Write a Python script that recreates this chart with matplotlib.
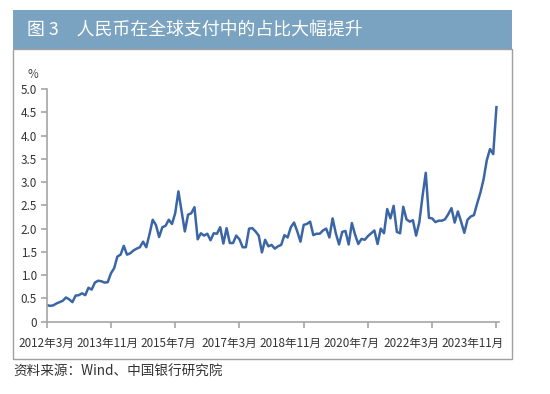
import matplotlib
matplotlib.use("Agg")
import matplotlib.pyplot as plt
from matplotlib.patches import Rectangle
from matplotlib.transforms import blended_transform_factory
import numpy as np

plt.rcParams["font.family"] = ["Noto Sans CJK SC", "DejaVu Sans"]

# RMB share of global payments (%), monthly 2012-03 .. 2023-11
share = [
    0.36, 0.34, 0.35, 0.39, 0.42, 0.45, 0.52, 0.48, 0.42, 0.56,
    0.57, 0.61, 0.57, 0.73, 0.69, 0.84, 0.88, 0.87, 0.84, 0.85,
    1.04, 1.15, 1.40, 1.44, 1.63, 1.44, 1.47, 1.53, 1.57, 1.60,
    1.72, 1.60, 1.88, 2.19, 2.08, 1.82, 2.03, 2.06, 2.19, 2.10,
    2.33, 2.80, 2.37, 1.94, 2.30, 2.33, 2.46, 1.77, 1.90, 1.85,
    1.89, 1.75, 1.90, 1.89, 2.03, 1.68, 2.01, 1.69, 1.69, 1.85,
    1.77, 1.60, 1.60, 2.00, 2.01, 1.94, 1.85, 1.49, 1.76, 1.62,
    1.65, 1.57, 1.62, 1.65, 1.86, 1.81, 2.03, 2.13, 1.94, 1.72,
    2.08, 2.10, 2.15, 1.86, 1.89, 1.89, 1.96, 2.00, 1.81, 2.22,
    1.90, 1.66, 1.93, 1.95, 1.66, 2.12, 1.87, 1.67, 1.78, 1.76,
    1.84, 1.90, 1.96, 1.67, 2.00, 1.90, 2.42, 2.22, 2.49, 1.93,
    1.90, 2.47, 2.20, 2.15, 2.18, 1.85, 2.14, 2.70, 3.20, 2.23,
    2.22, 2.14, 2.17, 2.17, 2.20, 2.31, 2.44, 2.13, 2.37, 2.15,
    1.91, 2.19, 2.26, 2.29, 2.54, 2.77, 3.06, 3.47, 3.71, 3.60, 4.61,
]
tick_labels = ["2012年3月", "2013年11月", "2015年7月", "2017年3月",
               "2018年11月", "2020年7月", "2022年3月", "2023年11月"]
tick_step = 20  # months between ticks
y_ticks = [0, 0.5, 1.0, 1.5, 2.0, 2.5, 3.0, 3.5, 4.0, 4.5, 5.0]
y_labels = ["0", "0.5", "1.0", "1.5", "2.0", "2.5", "3.0", "3.5", "4.0", "4.5", "5.0"]

title = "图 3\u3000人民币在全球支付中的占比大幅提升"
source = "资料来源：Wind、中国银行研究院"

W, H = 550, 394
fig = plt.figure(figsize=(W / 100, H / 100), dpi=100)
fig.patch.set_facecolor("white")

# title bar + frame
fig.patches.append(Rectangle((13 / W, 1 - 49 / H), 499 / W, 39 / H, transform=fig.transFigure,
                             facecolor="#7aa3c1", edgecolor="none", zorder=0))
fig.patches.append(Rectangle((13 / W, 1 - 359 / H), 499 / W, 310 / H, transform=fig.transFigure,
                             facecolor="none", edgecolor="#a0a0a0", lw=1.0, zorder=0))
fig.text(27 / W, 1 - 29.5 / H, title, color="white", fontsize=12.9, va="center", ha="left")
fig.text(13 / W, 1 - 372 / H, source, color="#333333", fontsize=9.8, va="center", ha="left")

ax = fig.add_axes([46.7 / W, 1 - 321.7 / H, 452.3 / W, (321.7 - 89) / H])
x = np.arange(len(share))
ax.plot(x, share, color="#3b66a6", lw=1.8, solid_joinstyle="round")

ax.set_xlim(0, 140.8)
ax.set_ylim(0, 5.0)
ax.set_xticks(np.arange(len(tick_labels)) * tick_step)
ax.set_xticklabels([])
ax.set_yticks(y_ticks)
ax.set_yticklabels(y_labels)
for s in ("top", "right"):
    ax.spines[s].set_visible(False)
for s in ("left", "bottom"):
    ax.spines[s].set_color("#a6a6a6")
    ax.spines[s].set_linewidth(1.2)
ax.tick_params(axis="both", colors="#a6a6a6", labelcolor="#333333", labelsize=8.4,
               length=4, width=1.2, direction="out")
ax.tick_params(axis="y", pad=3)

# category labels are spread a little tighter than the ticks in the original
label_step = 18.95
trans = blended_transform_factory(ax.transData, ax.transAxes)
for k, lab in enumerate(tick_labels):
    ax.text(k * label_step, -21.5 / 232.7, lab, transform=trans, ha="center", va="center",
            fontsize=8.4, color="#333333", clip_on=False)

fig.text(33 / W, 1 - 75 / H, "%", color="#444444", fontsize=8.4, va="center", ha="center")

fig.savefig("out.png", dpi=100)
